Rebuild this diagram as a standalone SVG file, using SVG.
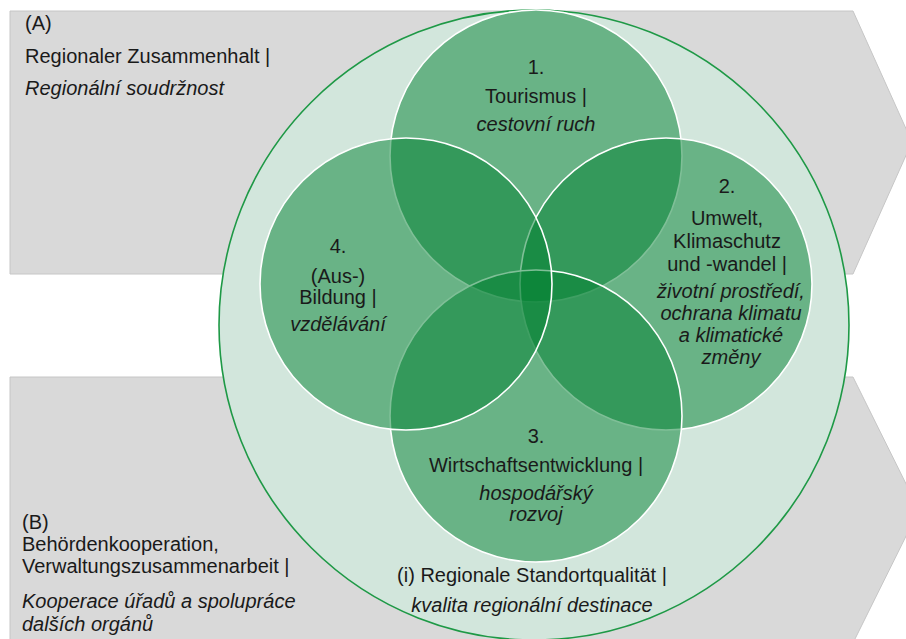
<svg xmlns="http://www.w3.org/2000/svg" width="906" height="639" viewBox="0 0 906 639">
<style>
  .arrow { fill: #d9d9d9; stroke: #c6c6c6; stroke-width: 1; }
  .outer { fill: #d2e6dc; stroke: #1e9946; stroke-width: 1.6; }
  .petal { fill: #00802f; fill-opacity: 0.5; stroke: #ffffff; stroke-width: 1.6; }
  text { font-family: "Liberation Sans", Arial, sans-serif; font-size: 20px; fill: #1a1a1a; }
  .it { font-style: italic; }
  .c { text-anchor: middle; }
</style>
<rect x="0" y="0" width="906" height="639" fill="#ffffff"/>
<g id="arrow-a">
  <polygon class="arrow" points="10,11 853,11 912,142 853,274 10,274"/>
  <text x="25" y="30">(A)</text>
  <text x="25" y="63">Regionaler Zusammenhalt |</text>
  <text x="25" y="95" class="it">Regionální soudržnost</text>
</g>
<g id="arrow-b">
  <polygon class="arrow" points="10,377 853,377 919,510 853,643 10,643"/>
  <text x="22" y="529">(B)</text>
  <text x="22" y="551">Behördenkooperation,</text>
  <text x="22" y="573">Verwaltungszusammenarbeit |</text>
  <text x="22" y="608" class="it">Kooperace úřadů a spolupráce</text>
  <text x="22" y="631" class="it">dalších orgánů</text>
</g>
<g id="standortqualitaet">
  <circle class="outer" cx="534" cy="325" r="315"/>
  <text x="532" y="582" class="c">(i) Regionale Standortqualität |</text>
  <text x="532" y="612" class="c it">kvalita regionální destinace</text>
</g>
<g id="node1-tourismus">
  <circle class="petal" cx="536" cy="156" r="146"/>
  <text x="536" y="74" class="c">1.</text>
  <text x="536" y="103" class="c">Tourismus |</text>
  <text x="536" y="131" class="c it">cestovní ruch</text>
</g>
<g id="node2-umwelt">
  <circle class="petal" cx="666" cy="284" r="146"/>
  <text x="727" y="193" class="c">2.</text>
  <text x="727" y="225" class="c">Umwelt,</text>
  <text x="727" y="248" class="c">Klimaschutz</text>
  <text x="727" y="271" class="c">und -wandel |</text>
  <text x="731" y="298" class="c it">životní prostředí,</text>
  <text x="731" y="320" class="c it">ochrana klimatu</text>
  <text x="731" y="342" class="c it">a klimatické</text>
  <text x="731" y="364" class="c it">změny</text>
</g>
<g id="node3-wirtschaft">
  <circle class="petal" cx="536" cy="416" r="146"/>
  <text x="536" y="443" class="c">3.</text>
  <text x="536" y="472" class="c">Wirtschaftsentwicklung |</text>
  <text x="536" y="500" class="c it">hospodářský</text>
  <text x="536" y="521" class="c it">rozvoj</text>
</g>
<g id="node4-bildung">
  <circle class="petal" cx="406" cy="284" r="146"/>
  <text x="338" y="253" class="c">4.</text>
  <text x="338" y="283" class="c">(Aus-)</text>
  <text x="338" y="304" class="c">Bildung |</text>
  <text x="338" y="331" class="c it">vzdělávání</text>
</g>
<g id="connectors"/>
</svg>
